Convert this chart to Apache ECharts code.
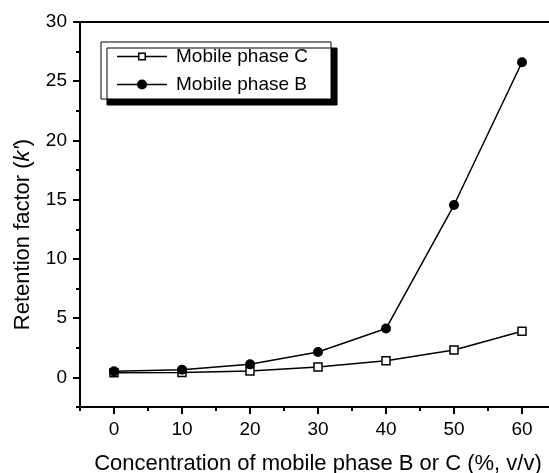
<!DOCTYPE html>
<html>
<head>
<meta charset="utf-8">
<script src="https://cdn.jsdelivr.net/npm/echarts@6/dist/echarts.min.js"></script>
<style>
  html, body { margin: 0; padding: 0; background: #fff; }
  #container1 { width: 549px; height: 473px; }
</style>
</head>
<body>
<div id="container1"></div>
<script>
// concentration (%, v/v)
var concentration = [0, 10, 20, 30, 40, 50, 60];
// retention factor k'
var phaseC = [0.40, 0.42, 0.54, 0.87, 1.41, 2.31, 3.89];
var phaseB = [0.51, 0.65, 1.10, 2.14, 4.12, 14.55, 26.6];

var xMajorTicks = [0, 10, 20, 30, 40, 50, 60];
var xMinorTicks = [-5, 5, 15, 25, 35, 45, 55, 65];
var yMajorTicks = [0, 5, 10, 15, 20, 25, 30];
var yMinorTicks = [-2.5, 2.5, 7.5, 12.5, 17.5, 22.5, 27.5];

function pairs(xs, ys) {
    return xs.map(function (x, i) { return [x, ys[i]]; });
}

var dom = document.getElementById("container1");
var myChart = echarts.init(dom);
var font = 'Liberation Sans, Arial, sans-serif';

// legend glyphs: line with hollow square / line with filled dot
var iconSquare = 'path://M0,4.3H21V5.7H0Z M29,4.3H50V5.7H29Z M21,1H29V9H21Z M22.5,2.5V7.5H27.5V2.5Z';
var iconDot = 'path://M0,4.3H50V5.7H0Z M20,5A5,5 0 1,1 30,5A5,5 0 1,1 20,5Z';

// extra axis that only draws ticks
function tickAxis(pos, min, max, values, len) {
    return {
        type: 'value',
        position: pos,
        min: min,
        max: max,
        axisLine: { show: false, onZero: false },
        axisTick: { show: true, inside: false, length: len, customValues: values, lineStyle: { color: '#000', width: 2 } },
        axisLabel: { show: false },
        splitLine: { show: false }
    };
}

option = {
    backgroundColor: '#ffffff',
    animation: false,
    textStyle: { fontFamily: font, color: '#000' },
    grid: {
        left: 80,
        top: 22,
        right: -7,
        bottom: 66,
        outerBoundsMode: 'none',
        containLabel: false,
        show: true,
        borderColor: '#000',
        borderWidth: 2,
        backgroundColor: 'transparent'
    },
    legend: {
        orient: 'vertical',
        left: 101,
        top: 42,
        data: [
            { name: 'Mobile phase C', icon: iconSquare, itemStyle: { color: '#000', borderWidth: 0 } },
            { name: 'Mobile phase B', icon: iconDot, itemStyle: { color: '#000', borderWidth: 0 } }
        ],
        itemWidth: 50,
        itemHeight: 10,
        itemGap: 9,
        itemStyle: { borderWidth: 0 },
        padding: [5, 23, 5, 16],
        backgroundColor: '#fff',
        borderColor: '#000',
        borderWidth: 1,
        shadowColor: '#000',
        shadowBlur: 0,
        shadowOffsetX: 6,
        shadowOffsetY: 6,
        textStyle: { fontFamily: font, fontSize: 19, color: '#000', padding: [0, 0, 0, 4] }
    },
    xAxis: [
        {
            type: 'value',
            min: -5,
            max: 65,
            name: 'Concentration of mobile phase B or C (%, v/v)',
            nameLocation: 'middle',
            nameGap: 46,
            nameTextStyle: { fontFamily: font, fontSize: 22, color: '#000' },
            axisLine: { show: true, onZero: false, lineStyle: { color: '#000', width: 2 } },
            axisTick: { show: false },
            axisLabel: { customValues: xMajorTicks, margin: 13, fontFamily: font, fontSize: 19, color: '#000' },
            splitLine: { show: false }
        },
        tickAxis('bottom', -5, 65, xMajorTicks, 7),
        tickAxis('bottom', -5, 65, xMinorTicks, 4)
    ],
    yAxis: [
        {
            type: 'value',
            min: -2.5,
            max: 30,
            name: '{a|Retention factor (}{i|k\'}{a|)}',
            nameLocation: 'middle',
            nameGap: 46,
            nameTextStyle: {
                padding: [0, 40, 0, 0],
                rich: {
                    a: { fontFamily: font, fontSize: 22, color: '#000' },
                    i: { fontFamily: font, fontSize: 22, fontStyle: 'italic', color: '#000' }
                }
            },
            axisLine: { show: true, onZero: false, lineStyle: { color: '#000', width: 2 } },
            axisTick: { show: false },
            axisLabel: { customValues: yMajorTicks, margin: 13, fontFamily: font, fontSize: 19, color: '#000' },
            splitLine: { show: false }
        },
        tickAxis('left', -2.5, 30, yMajorTicks, 7),
        tickAxis('left', -2.5, 30, yMinorTicks, 4)
    ],
    series: [
        {
            name: 'Mobile phase C',
            type: 'line',
            symbol: 'rect',
            symbolSize: 8,
            lineStyle: { color: '#000', width: 1.5 },
            itemStyle: { color: '#fff', borderColor: '#000', borderWidth: 1.5 },
            data: pairs(concentration, phaseC)
        },
        {
            name: 'Mobile phase B',
            type: 'line',
            symbol: 'circle',
            symbolSize: 10,
            lineStyle: { color: '#000', width: 1.5 },
            itemStyle: { color: '#000', borderColor: '#000', borderWidth: 0 },
            data: pairs(concentration, phaseB)
        }
    ]
};

if (option && typeof option === "object") {
    myChart.setOption(option, true);
}
</script>
</body>
</html>
